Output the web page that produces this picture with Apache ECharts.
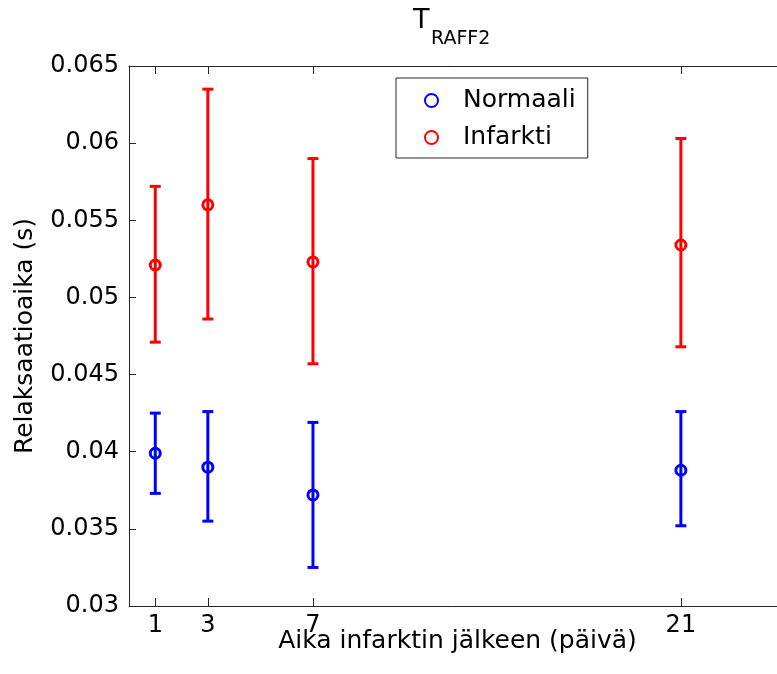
<!DOCTYPE html>
<html>
<head>
<meta charset="utf-8">
<script src="https://cdn.jsdelivr.net/npm/echarts@6/dist/echarts.min.js"></script>
<style>
  html, body { margin: 0; padding: 0; background: #fff; }
  #chart { width: 777px; height: 674px; }
</style>
</head>
<body>
<div id="chart"></div>
<script>
// Measurement days after infarction
const days = [1, 3, 7, 21];
const xTicks = [1, 3, 7, 21];
const yTicks = [0.03, 0.035, 0.04, 0.045, 0.05, 0.055, 0.06, 0.065];

// Relaxation time, mean with lower / upper error limits (s)
const normaaliMean = [0.0399, 0.0390, 0.0372, 0.0388];
const normaaliLow  = [0.0373, 0.0355, 0.0325, 0.0352];
const normaaliHigh = [0.0425, 0.0426, 0.0419, 0.0426];

const infarktiMean = [0.0521, 0.0560, 0.0523, 0.0534];
const infarktiLow  = [0.0471, 0.0486, 0.0457, 0.0468];
const infarktiHigh = [0.0572, 0.0635, 0.0590, 0.0603];

const FONT = 'DejaVu Sans';
const AXIS_COLOR = '#262626';
const BLUE = '#0000ff';
const RED = '#ff0000';

function points(mean) {
  return days.map((d, i) => [d, mean[i]]);
}
function bars(low, high) {
  return days.map((d, i) => [d, low[i], high[i]]);
}

function errorBar(color) {
  return function (params, api) {
    const x = api.value(0);
    const lo = api.coord([x, api.value(1)]);
    const hi = api.coord([x, api.value(2)]);
    const cx = lo[0];
    const half = 5.5;
    const style = { stroke: color, lineWidth: 3, fill: null };
    return {
      type: 'group',
      children: [
        { type: 'line', shape: { x1: cx, y1: hi[1], x2: cx, y2: lo[1] }, style: style },
        { type: 'line', shape: { x1: cx - half, y1: hi[1], x2: cx + half, y2: hi[1] }, style: style },
        { type: 'line', shape: { x1: cx - half, y1: lo[1], x2: cx + half, y2: lo[1] }, style: style }
      ]
    };
  };
}

function legendItem(name, color) {
  return {
    name: name,
    icon: 'circle',
    itemStyle: { color: 'rgba(255,255,255,0)', borderColor: color, borderWidth: 2, opacity: 1 }
  };
}

const chart = echarts.init(document.getElementById('chart'), null, { renderer: 'canvas' });

const tickFmt = v => String(parseFloat(v.toFixed(3)));

chart.setOption({
  backgroundColor: '#ffffff',
  animation: false,
  // the plot box runs slightly past the right edge of the canvas
  grid: { left: 129, top: 66, width: 657, height: 540, outerBoundsMode: 'none', containLabel: false },
  graphic: [
    { type: 'text', left: 413, top: 7,
      style: { text: 'T', font: '27px "' + FONT + '"', fill: '#000' } },
    { type: 'text', left: 431, top: 30,
      style: { text: 'RAFF2', font: '19px "' + FONT + '"', fill: '#000' } }
  ],
  legend: {
    orient: 'vertical',
    left: 396,
    top: 78,
    padding: [10, 12, 8, 28],
    itemGap: 12,
    itemWidth: 13,
    itemHeight: 13,
    borderColor: AXIS_COLOR,
    borderWidth: 1,
    backgroundColor: '#fff',
    textStyle: { fontFamily: FONT, fontSize: 25, color: '#000', padding: [0, 0, 0, 20] },
    data: [legendItem('Normaali', BLUE), legendItem('Infarkti', RED)]
  },
  xAxis: [
    {
      type: 'value', min: 0, max: 25,
      name: 'Aika infarktin jälkeen (päivä)',
      nameLocation: 'middle', nameGap: 23, nameMoveOverlap: false,
      nameTextStyle: { fontFamily: FONT, fontSize: 25, color: '#000', verticalAlign: 'top' },
      axisLine: { show: true, onZero: false, lineStyle: { color: AXIS_COLOR, width: 1 } },
      axisTick: { show: true, inside: true, length: 8, customValues: xTicks,
                  lineStyle: { color: AXIS_COLOR, width: 1 } },
      axisLabel: { show: true, customValues: xTicks, margin: 8,
                   fontFamily: FONT, fontSize: 24, color: '#000' },
      splitLine: { show: false }
    },
    {
      type: 'value', min: 0, max: 25, position: 'top',
      axisLine: { show: true, onZero: false, lineStyle: { color: AXIS_COLOR, width: 1 } },
      axisTick: { show: true, inside: true, length: 8, customValues: xTicks,
                  lineStyle: { color: AXIS_COLOR, width: 1 } },
      axisLabel: { show: false },
      splitLine: { show: false }
    }
  ],
  yAxis: [
    {
      type: 'value', min: 0.03, max: 0.065, interval: 0.005,
      name: 'Relaksaatioaika (s)',
      nameLocation: 'middle', nameGap: 91, nameRotate: 90, nameMoveOverlap: false,
      nameTextStyle: { fontFamily: FONT, fontSize: 25, color: '#000' },
      axisLine: { show: true, onZero: false, lineStyle: { color: AXIS_COLOR, width: 1 } },
      axisTick: { show: true, inside: true, length: 7, customValues: yTicks,
                  lineStyle: { color: AXIS_COLOR, width: 1 } },
      axisLabel: { show: true, customValues: yTicks, margin: 10, formatter: tickFmt,
                   fontFamily: FONT, fontSize: 24, color: '#000' },
      splitLine: { show: false }
    },
    {
      type: 'value', min: 0.03, max: 0.065, interval: 0.005, position: 'right',
      axisLine: { show: true, onZero: false, lineStyle: { color: AXIS_COLOR, width: 1 } },
      axisTick: { show: true, inside: true, length: 7, lineStyle: { color: AXIS_COLOR, width: 1 } },
      axisLabel: { show: false },
      splitLine: { show: false }
    }
  ],
  series: [
    {
      name: 'Normaali', type: 'scatter', z: 3,
      symbol: 'circle', symbolSize: 10,
      itemStyle: { color: 'rgba(255,255,255,0)', borderColor: BLUE, borderWidth: 3, opacity: 1 },
      data: points(normaaliMean)
    },
    {
      name: 'Infarkti', type: 'scatter', z: 3,
      symbol: 'circle', symbolSize: 10,
      itemStyle: { color: 'rgba(255,255,255,0)', borderColor: RED, borderWidth: 3, opacity: 1 },
      data: points(infarktiMean)
    },
    {
      name: 'Normaali', type: 'custom', z: 2,
      renderItem: errorBar(BLUE),
      encode: { x: 0, y: [1, 2] },
      data: bars(normaaliLow, normaaliHigh),
      itemStyle: { color: BLUE }
    },
    {
      name: 'Infarkti', type: 'custom', z: 2,
      renderItem: errorBar(RED),
      encode: { x: 0, y: [1, 2] },
      data: bars(infarktiLow, infarktiHigh),
      itemStyle: { color: RED }
    }
  ]
});
</script>
</body>
</html>
